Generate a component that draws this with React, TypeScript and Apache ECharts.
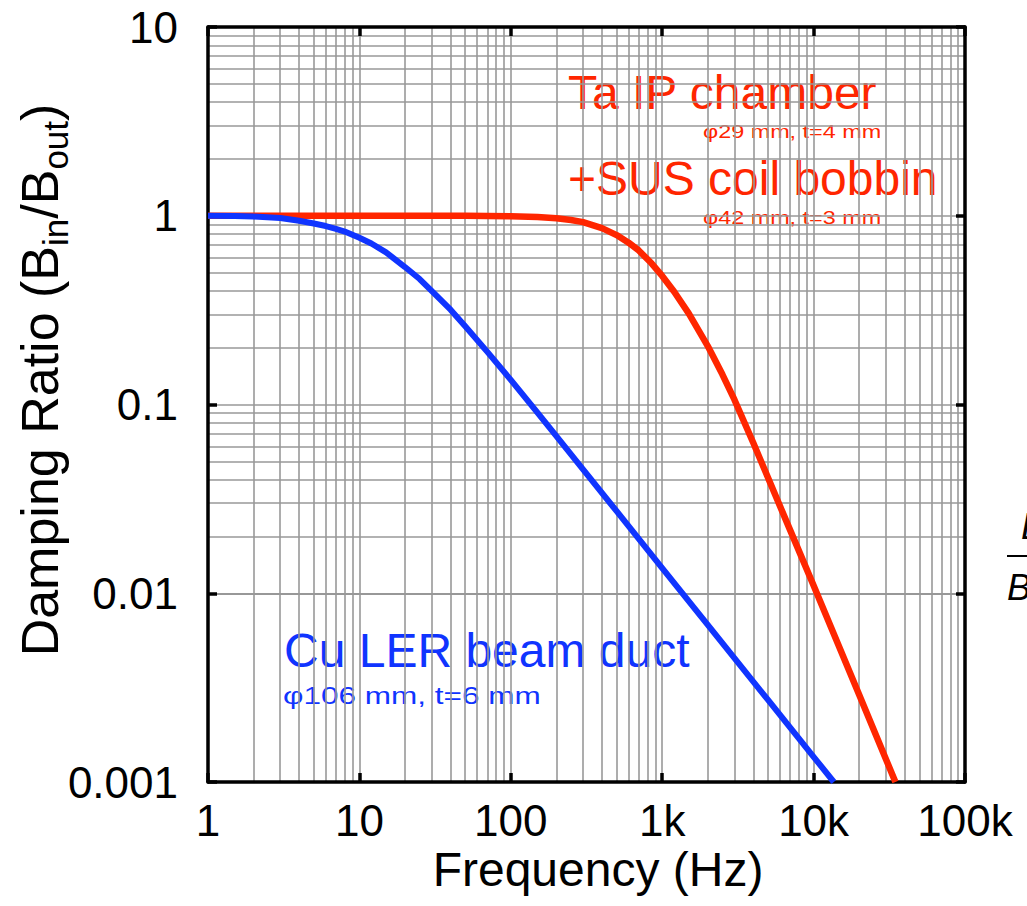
import React, { useEffect, useRef } from "react";
import * as echarts from "echarts";

// Cu LER beam duct (blue)
const blueFreq = [1, 1.5, 2, 3, 4, 5, 6, 7, 8, 10, 12, 15, 20, 25, 30, 40, 50, 70, 100, 150, 200, 300, 500, 1000, 2000, 5000, 10000, 13600];
const blueRatio = [1.0, 0.997, 0.99, 0.972, 0.94, 0.91, 0.882, 0.853, 0.825, 0.765, 0.713, 0.64, 0.535, 0.462, 0.4, 0.318, 0.26, 0.19, 0.135, 0.0905, 0.068, 0.0453, 0.0272, 0.0136, 0.0068, 0.00272, 0.00136, 0.001];

// Ta IP chamber + SUS coil bobbin (red)
const redFreq = [1, 10, 50, 100, 150, 200, 250, 300, 400, 500, 600, 700, 850, 1000, 1200, 1500, 2000, 2500, 3000, 4000, 5000, 7000, 10000, 20000, 34700];
const redRatio = [1, 1, 1, 0.995, 0.985, 0.97, 0.95, 0.925, 0.86, 0.79, 0.72, 0.655, 0.56, 0.48, 0.396, 0.303, 0.204, 0.144, 0.106, 0.0625, 0.0409, 0.0216, 0.011, 0.0029, 0.001];

const xTickLabels = ["1", "10", "100", "1k", "10k", "100k"];
const yTickLabels = ["0.001", "0.01", "0.1", "1", "10"];
const xDecades = [1, 10, 100, 1000, 10000];
const yDecades = [0.001, 0.01, 0.1, 1];
const minorSteps = [2, 3, 4, 5, 6, 7, 8, 9];

const RED = "#ff2600";
const BLUE = "#1034ff";
const FONT = "'Liberation Sans', Arial, Helvetica, sans-serif";

export default function App() {
  const ref = useRef<HTMLDivElement>(null);
  useEffect(() => {
    const chart = echarts.init(ref.current!, null, { renderer: "svg" });
    const xMinor = xDecades.flatMap((d) => minorSteps.map((k) => d * k));
    const yMinor = yDecades.flatMap((d) => minorSteps.map((k) => d * k));
    const fmtX = (v: number) => xTickLabels[Math.round(Math.log10(v))] ?? "";
    const fmtY = (v: number) => yTickLabels[Math.round(Math.log10(v)) + 3] ?? "";
    const tick = { show: true, inside: true, length: 9, lineStyle: { color: "#000", width: 3.5 } };
    const axisLine = { show: true, onZero: false, lineStyle: { color: "#000", width: 3.5 } };
    const split = { show: true, showMinLine: false, showMaxLine: false, lineStyle: { color: "#999", width: 1.6 } };
    const label = { fontSize: 44, color: "#000", fontFamily: FONT };

    const option: any = {
      animation: false,
      grid: { left: 208, top: 27, width: 757, height: 755, containLabel: false },
      xAxis: [
        {
          type: "log", logBase: 10, min: 1, max: 100000, position: "bottom", z: 1,
          axisLine, axisTick: tick, splitLine: split,
          axisLabel: { ...label, formatter: fmtX, margin: 16 },
        },
        {
          type: "log", logBase: 10, min: 1, max: 100000, position: "top", z: 1,
          axisLine, axisTick: tick, splitLine: { show: false }, axisLabel: { show: false },
        },
      ],
      yAxis: [
        {
          type: "log", logBase: 10, min: 0.001, max: 10, position: "left", z: 1,
          axisLine, axisTick: tick, splitLine: split,
          axisLabel: { ...label, formatter: fmtY, margin: 30 },
        },
        {
          type: "log", logBase: 10, min: 0.001, max: 10, position: "right", z: 1,
          axisLine, axisTick: tick, splitLine: { show: false }, axisLabel: { show: false },
        },
      ],
      series: [
        {
          type: "line", data: [], silent: true, z: 0,
          markLine: {
            silent: true, symbol: "none", z: 0, animation: false,
            label: { show: false },
            lineStyle: { color: "#999", width: 1.6, type: "solid" },
            emphasis: { disabled: true },
            data: [...xMinor.map((v) => ({ xAxis: v })), ...yMinor.map((v) => ({ yAxis: v }))],
          },
        },
        {
          type: "line", name: "Ta IP chamber + SUS coil bobbin",
          data: redFreq.map((f, i) => [f, redRatio[i]]),
          showSymbol: false, smooth: false, z: 3,
          lineStyle: { color: RED, width: 6.5, join: "round" },
        },
        {
          type: "line", name: "Cu LER beam duct",
          data: blueFreq.map((f, i) => [f, blueRatio[i]]),
          showSymbol: false, smooth: false, z: 3,
          lineStyle: { color: BLUE, width: 6, join: "round" },
        },
      ],
      graphic: [
        { type: "text", x: 568, y: 92, style: { text: "Ta IP chamber", fill: RED, fontSize: 48, fontFamily: FONT, align: "left", verticalAlign: "middle" } },
        { type: "text", x: 703, y: 132, scaleX: 1.3, style: { text: "φ29 mm, t=4 mm", fill: RED, fontSize: 18, fontFamily: FONT, align: "left", verticalAlign: "middle" } },
        { type: "text", x: 568, y: 178, style: { text: "+SUS coil bobbin", fill: RED, fontSize: 48, fontFamily: FONT, align: "left", verticalAlign: "middle" } },
        { type: "text", x: 703, y: 218, scaleX: 1.3, style: { text: "φ42 mm, t=3 mm", fill: RED, fontSize: 18, fontFamily: FONT, align: "left", verticalAlign: "middle" } },
        { type: "text", x: 284, y: 650, style: { text: "Cu LER beam duct", fill: BLUE, fontSize: 48, fontFamily: FONT, align: "left", verticalAlign: "middle" } },
        { type: "text", x: 283, y: 696, scaleX: 1.37, style: { text: "φ106 mm, t=6 mm", fill: BLUE, fontSize: 23, fontFamily: FONT, align: "left", verticalAlign: "middle" } },
        { type: "text", x: 598, y: 869, style: { text: "Frequency (Hz)", fill: "#000", fontSize: 48, fontFamily: FONT, align: "center", verticalAlign: "middle" } },
        {
          type: "text", x: 40, y: 380, rotation: Math.PI / 2,
          style: {
            text: "{m|Damping Ratio (B}{s|in}{m|/B}{s|out}{m|)}",
            fill: "#000", fontFamily: FONT, align: "center", verticalAlign: "middle",
            rich: {
              m: { fontSize: 52, lineHeight: 65, fill: "#000", fontFamily: FONT, verticalAlign: "middle" },
              s: { fontSize: 35, lineHeight: 35, fill: "#000", fontFamily: FONT, verticalAlign: "bottom" },
            },
          },
        },
        { type: "text", x: 1021, y: 526, style: { text: "B", fill: "#000", fontSize: 36, fontStyle: "italic", fontFamily: FONT, align: "left", verticalAlign: "middle" } },
        { type: "text", x: 1007, y: 587, style: { text: "B", fill: "#000", fontSize: 36, fontStyle: "italic", fontFamily: FONT, align: "left", verticalAlign: "middle" } },
        { type: "line", shape: { x1: 1007, y1: 556, x2: 1030, y2: 556 }, style: { stroke: "#000", lineWidth: 2 } },
      ],
    };
    chart.setOption(option);
    return () => chart.dispose();
  }, []);
  return <div ref={ref} style={{ position: "fixed", left: 0, top: 0, width: 1027, height: 906, background: "#fff" }} />;
}
